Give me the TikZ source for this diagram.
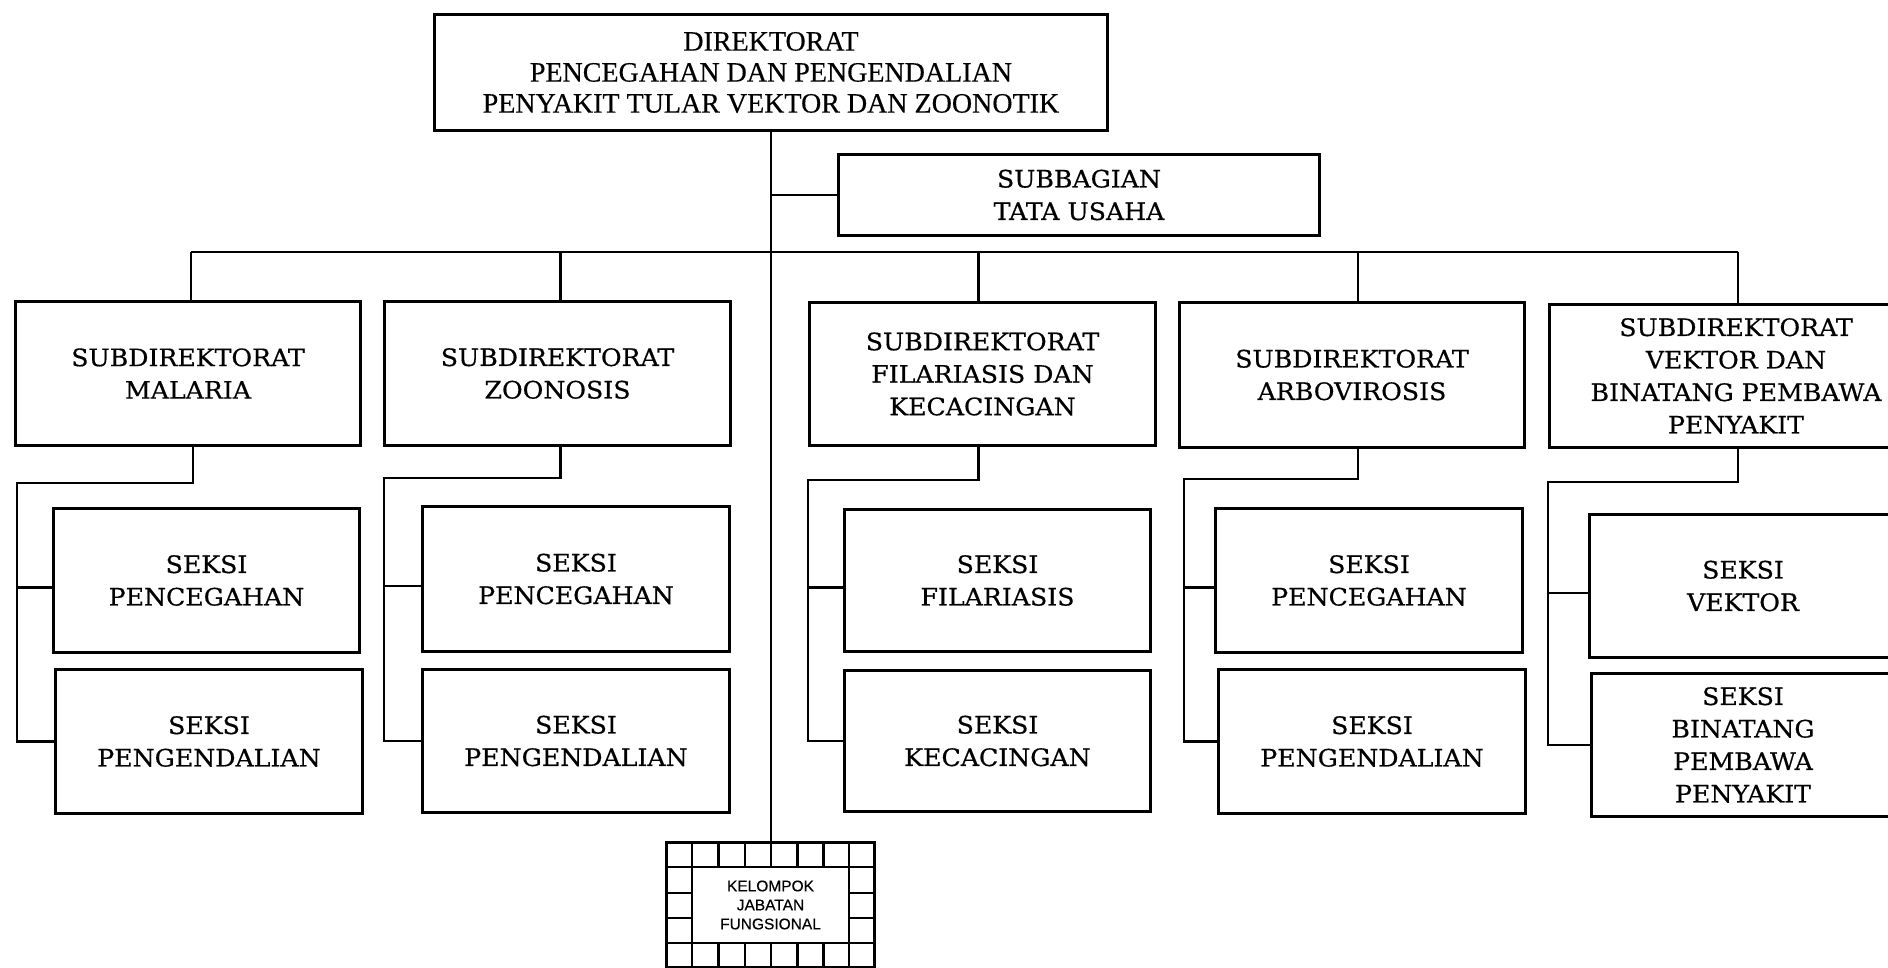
\documentclass[tikz,border=0pt]{standalone}
\usepackage{fontspec}
\setmainfont{DejaVu Serif}[FakeStretch=1.05,FakeBold=0.5]
\newfontfamily\headfont{Liberation Serif}[FakeBold=0.4]
\newfontfamily\smallsans{Liberation Sans}[FakeBold=0.4]

% \unitbox[extra style]{name}{left}{top}{right}{bottom}{text}
% (coordinates are outer edges, y grows downward)
\newcommand\unitbox[7][]{%
  \node[orgbox,#1,
        minimum width={(#5)-(#3)-3},
        minimum height={(#6)-(#4)-3}]
       (#2) at ({((#3)+(#5))/2},{((#4)+(#6))/2}) {#7};}

\begin{document}
\begin{tikzpicture}[x=1pt,y=-1pt,
  orgbox/.style={draw, line width=3pt, align=center, inner sep=0pt,
                 font=\fontsize{24}{32.5}\selectfont},
  headbox/.style={font=\headfont\fontsize{28}{31}\selectfont},
  link/.style={line width=2.6pt},
  gridline/.style={line width=2.7pt}]

\clip (0,0) rectangle (1888,967);
\fill[white] (0,0) rectangle (1888,967);

% directorate and administrative unit
\unitbox[headbox]{top}{433}{13}{1109}{132}{DIREKTORAT\\PENCEGAHAN DAN PENGENDALIAN\\PENYAKIT TULAR VEKTOR DAN ZOONOTIK}
\unitbox{sub}{837}{153}{1321}{237}{SUBBAGIAN\\TATA USAHA}

% subdirectorates
\unitbox{mal}{14}{300}{362}{447}{SUBDIREKTORAT\\MALARIA}
\unitbox{zoo}{383}{300}{732}{447}{SUBDIREKTORAT\\ZOONOSIS}
\unitbox{fil}{808}{301}{1157}{447}{SUBDIREKTORAT\\FILARIASIS DAN\\KECACINGAN}
\unitbox{arb}{1178}{301}{1526}{449}{SUBDIREKTORAT\\ARBOVIROSIS}
\unitbox{vek}{1548}{303}{1924}{449}{SUBDIREKTORAT\\VEKTOR DAN\\BINATANG PEMBAWA\\PENYAKIT}

% sections
\unitbox{mal-a}{52}{507}{361}{654}{SEKSI\\PENCEGAHAN}
\unitbox{mal-b}{54}{668}{364}{815}{SEKSI\\PENGENDALIAN}
\unitbox{zoo-a}{421}{505}{731}{653}{SEKSI\\PENCEGAHAN}
\unitbox{zoo-b}{421}{668}{731}{814}{SEKSI\\PENGENDALIAN}
\unitbox{fil-a}{843}{508}{1152}{653}{SEKSI\\FILARIASIS}
\unitbox{fil-b}{843}{669}{1152}{813}{SEKSI\\KECACINGAN}
\unitbox{arb-a}{1214}{507}{1524}{654}{SEKSI\\PENCEGAHAN}
\unitbox{arb-b}{1217}{668}{1527}{815}{SEKSI\\PENGENDALIAN}
\unitbox{vek-a}{1588}{513}{1898}{659}{SEKSI\\VEKTOR}
\unitbox{vek-b}{1590}{672}{1896}{818}{SEKSI\\BINATANG\\PEMBAWA\\PENYAKIT}

% functional group box with its tiled border
\unitbox[font=\smallsans\fontsize{15.5}{19}\selectfont, line width=2.7pt]{kjf}{665}{841}{876}{969}{KELOMPOK\\JABATAN\\FUNGSIONAL}
\draw[gridline] (665,867) -- (876,867) (665,943) -- (876,943)
                (692,841) -- (692,969) (849,841) -- (849,969);
\foreach \x in {718.6,745,771,797.3,823.3}
  \draw[gridline] (\x,841) -- (\x,867) (\x,943) -- (\x,969);
\foreach \y in {893,918}
  \draw[gridline] (665,\y) -- (692,\y) (849,\y) -- (876,\y);

% main trunk and administrative branch
\draw[link] (top.south) -- (top.south |- kjf.north);
\draw[link] (top.south |- sub.west) -- (sub.west);

% bus to the subdirectorates
\coordinate (bus) at (0,252);
\foreach \b/\dx in {mal/3, zoo/3, fil/-4, arb/6, vek/2}
  \draw[link] ([xshift=\dx]\b.north) -- ([xshift=\dx]\b.north |- bus);
\draw[link] ([xshift=3]mal.north |- bus) -- ([xshift=2]vek.north |- bus);

% each subdirectorate to its two sections
\foreach \b/\dx/\sx/\ey in {mal/5/17/483, zoo/3/384/478, fil/-4/808/480, arb/6/1184/479, vek/2/1548/482} {
  \coordinate (\b-e) at (\sx,\ey);
  \draw[link] ([xshift=\dx]\b.south) |- (\b-e) |- (\b-b.west);
  \draw[link] ([yshift=-7]\b-e |- \b-a.west) -- ([yshift=-7]\b-a.west);
}
\end{tikzpicture}
\end{document}
